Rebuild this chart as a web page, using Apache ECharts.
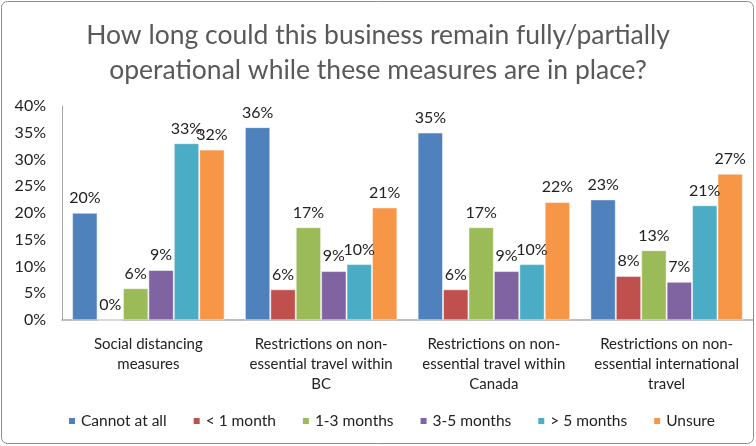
<!DOCTYPE html>
<html><head><meta charset="utf-8">
<script src="https://cdn.jsdelivr.net/npm/echarts@6/dist/echarts.min.js"></script>
<style>html,body{margin:0;padding:0;background:#fff}#c{width:756px;height:446px}</style>
</head><body><div id="c"></div>
<script>
const titleText = "How long could this business remain fully/partially\noperational while these measures are in place?";
const categories = ["Social distancing\nmeasures", "Restrictions on non-\nessential travel within\nBC", "Restrictions on non-\nessential travel within\nCanada", "Restrictions on non-\nessential international\ntravel"];
const seriesNames = ["Cannot at all", "< 1 month", "1-3 months", "3-5 months", "> 5 months", "Unsure"];
const cannotAtAll = [20, 36, 35, 22.5];
const lessThan1 = [0, 5.7, 5.7, 8.2];
const oneToThree = [5.9, 17.3, 17.3, 13];
const threeToFive = [9.3, 9.1, 9.1, 7.1];
const moreThan5 = [33, 10.4, 10.4, 21.4];
const unsure = [31.8, 21, 22, 27.3];
const yTicks = [0, 5, 10, 15, 20, 25, 30, 35, 40];
const colors = ["#4F81BD", "#C0504D", "#9BBB59", "#8064A2", "#4BACC6", "#F79646"];
const values = [cannotAtAll, lessThan1, oneToThree, threeToFive, moreThan5, unsure];
const FONT = "Lato, 'Open Sans', sans-serif";

const chart = echarts.init(document.getElementById('c'));
chart.setOption({
  animation: false,
  color: colors,
  graphic: [{type:'rect', shape:{x:1.5,y:1.5,width:752,height:442,r:6}, style:{fill:'none', stroke:'#8c8c8c', lineWidth:1}, silent:true}],
  title: {text: titleText, left: 'center', top: 13,
    textStyle:{fontFamily: FONT, fontSize: 26.5, fontWeight: 'normal', color:'#595959', lineHeight: 35}},
  legend: {bottom: 12, left: 62, itemWidth: 8, itemHeight: 8, itemGap: 25, icon: 'rect',
    textStyle:{fontFamily: FONT, fontSize: 15.5, color:'#222'}},
  grid: {left: 62, right: 3, top: 106, bottom: 126, containLabel: false},
  xAxis: {type:'category', data: categories,
    axisLine:{lineStyle:{color:'#a6a6a6', width:1.5}}, axisTick:{show:false},
    axisLabel:{fontFamily: FONT, fontSize: 15, color:'#222', lineHeight: 20, margin: 14, interval: 0}},
  yAxis: {type:'value', min: yTicks[0], max: yTicks[yTicks.length-1], interval: 5,
    axisLine:{show:true, lineStyle:{color:'#a6a6a6'}}, axisTick:{show:false}, splitLine:{show:false},
    axisLabel:{fontFamily: FONT, fontSize: 16, color:'#222', margin: 16, formatter: '{value}%'}},
  series: seriesNames.map((n, i) => ({
    name: n, type: 'bar', data: values[i], barGap: '2%', barCategoryGap: '12%',
    itemStyle: {borderColor:'#fff', borderWidth: 0.5},
    label: {show: true, position: 'top', distance: 7, fontFamily: FONT, fontSize: 16, color:'#222',
      formatter: p => Math.round(p.value) + '%'}
  }))
});
</script></body></html>
